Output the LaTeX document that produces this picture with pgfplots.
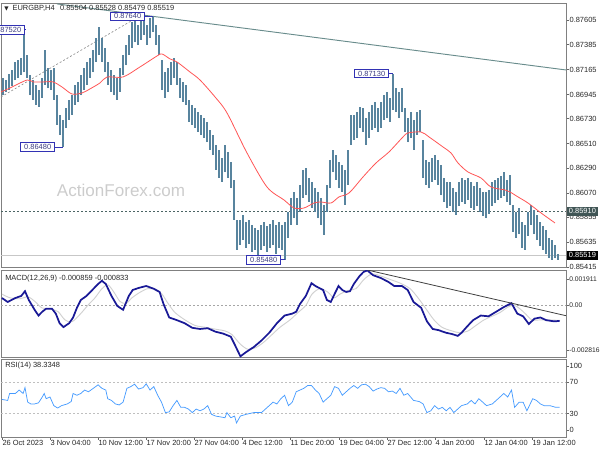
\documentclass[border=0pt]{standalone}
\usepackage{pgfplots}
\pgfplotsset{compat=1.18}
\usepackage{pgfplotstable}
\usepackage{fontspec}
\setmainfont{Liberation Sans}
\newfontfamily\dejavu{DejaVu Sans}
\definecolor{barc}{RGB}{88,132,158}
\definecolor{maR}{RGB}{255,85,85}
\definecolor{trendc}{RGB}{105,140,140}
\definecolor{lblc}{RGB}{50,50,180}
\definecolor{lbltx}{RGB}{60,60,130}
\definecolor{macdc}{RGB}{25,25,150}
\definecolor{rsic}{RGB}{70,155,255}
\definecolor{hlc}{RGB}{75,100,100}
\newcommand\tl{\fontsize{5.6}{6.5}\selectfont}

\pgfplotstableread{
x lo hi
3 0.86940 0.87091
6 0.86967 0.87073
9 0.86985 0.87127
12 0.87020 0.87162
15 0.87073 0.87233
18 0.87091 0.87251
21 0.87118 0.87269
24 0.87144 0.87520
27 0.87091 0.87295
30 0.86940 0.87118
33 0.86896 0.87073
36 0.86852 0.87029
39 0.86834 0.86985
42 0.86914 0.87091
45 0.87029 0.87340
48 0.87002 0.87180
51 0.86985 0.87162
54 0.86896 0.87180
57 0.86674 0.86940
60 0.86586 0.86763
63 0.86480 0.86719
66 0.86648 0.86825
69 0.86719 0.86896
72 0.86763 0.86940
75 0.86852 0.87029
78 0.86878 0.87056
81 0.86940 0.87118
84 0.86985 0.87180
87 0.87029 0.87233
90 0.87091 0.87269
93 0.87144 0.87340
96 0.87233 0.87446
99 0.87295 0.87544
102 0.87233 0.87446
105 0.87144 0.87357
108 0.87029 0.87233
111 0.86967 0.87162
114 0.86940 0.87118
117 0.86896 0.87091
120 0.86967 0.87180
123 0.87118 0.87295
126 0.87206 0.87384
129 0.87295 0.87473
132 0.87357 0.87588
135 0.87410 0.87606
138 0.87384 0.87561
141 0.87428 0.87606
144 0.87473 0.87632
147 0.87384 0.87561
150 0.87446 0.87623
153 0.87499 0.87640
156 0.87384 0.87561
159 0.87295 0.87473
162 0.86985 0.87251
165 0.86914 0.87144
168 0.86967 0.87180
171 0.87029 0.87233
174 0.87091 0.87269
177 0.87029 0.87233
180 0.86914 0.87091
183 0.86878 0.87056
186 0.86852 0.87029
189 0.86701 0.86896
192 0.86674 0.86852
195 0.86648 0.86825
198 0.86612 0.86790
201 0.86586 0.86763
204 0.86559 0.86736
207 0.86523 0.86701
210 0.86453 0.86630
213 0.86408 0.86586
216 0.86275 0.86497
219 0.86204 0.86453
222 0.86169 0.86382
225 0.86257 0.86497
228 0.86204 0.86435
231 0.86115 0.86346
234 0.85832 0.86187
237 0.85566 0.85832
240 0.85610 0.85832
243 0.85654 0.85876
246 0.85583 0.85814
249 0.85619 0.85832
252 0.85548 0.85787
255 0.85566 0.85761
258 0.85521 0.85743
261 0.85566 0.85787
264 0.85601 0.85814
267 0.85548 0.85778
270 0.85583 0.85796
273 0.85610 0.85832
276 0.85530 0.85787
279 0.85583 0.85814
282 0.85566 0.85787
285 0.85480 0.85814
288 0.85672 0.85903
291 0.85787 0.86027
294 0.85849 0.86080
297 0.85787 0.86027
300 0.85903 0.86142
303 0.86027 0.86275
306 0.86053 0.86293
309 0.85991 0.86204
312 0.85938 0.86169
315 0.85903 0.86115
318 0.85849 0.86080
321 0.85787 0.86027
324 0.85699 0.85965
327 0.85903 0.86142
330 0.86115 0.86364
333 0.86257 0.86453
336 0.86187 0.86408
339 0.86115 0.86346
342 0.86080 0.86319
345 0.85965 0.86275
348 0.86142 0.86453
351 0.86497 0.86763
354 0.86541 0.86763
357 0.86559 0.86790
360 0.86648 0.86834
363 0.86612 0.86825
366 0.86497 0.86736
369 0.86559 0.86790
372 0.86630 0.86852
375 0.86648 0.86878
378 0.86612 0.86825
381 0.86648 0.86878
384 0.86719 0.86940
387 0.86736 0.86967
390 0.86701 0.86914
393 0.86807 0.87130
396 0.86790 0.87002
399 0.86736 0.86967
402 0.86790 0.87002
405 0.86612 0.86825
408 0.86523 0.86736
411 0.86559 0.86790
414 0.86453 0.86719
417 0.86586 0.86790
420 0.86612 0.86807
423 0.86204 0.86541
426 0.86142 0.86364
429 0.86115 0.86346
432 0.86169 0.86382
435 0.86187 0.86408
438 0.86142 0.86364
441 0.86053 0.86319
444 0.85991 0.86204
447 0.85938 0.86169
450 0.85956 0.86169
453 0.85903 0.86115
456 0.85876 0.86080
459 0.85956 0.86169
462 0.85991 0.86204
465 0.85974 0.86187
468 0.86009 0.86204
471 0.85938 0.86169
474 0.85920 0.86133
477 0.85956 0.86169
480 0.85903 0.86115
483 0.85867 0.86080
486 0.85849 0.86080
489 0.85885 0.86098
492 0.85956 0.86169
495 0.85982 0.86187
498 0.86009 0.86204
501 0.86027 0.86222
504 0.86045 0.86257
507 0.85991 0.86187
510 0.85965 0.86231
513 0.85725 0.85965
516 0.85672 0.85903
519 0.85707 0.85938
522 0.85583 0.85814
525 0.85566 0.85787
528 0.85690 0.85903
531 0.85787 0.85965
534 0.85707 0.85920
537 0.85654 0.85876
540 0.85601 0.85814
543 0.85566 0.85778
546 0.85530 0.85743
549 0.85494 0.85672
552 0.85477 0.85654
555 0.85494 0.85610
558 0.85479 0.85528
}\bars

\pgfplotsset{mt/.style={scale only axis, width=423.75pt, xmin=1, xmax=566,
  axis line style={draw=black!50, line width=0.6pt},
  tick style={draw=black!60, line width=0.5pt}, major tick length=2pt,
  ytick pos=right, yticklabel pos=right, tick align=outside,
  yticklabel style={font=\tl, inner sep=0.5pt, text=black!85},
  clip mode=individual, scaled y ticks=false}}

\begin{document}
\begin{tikzpicture}
\path[use as bounding box] (0,0) rectangle (450pt,-337.5pt);
% ---------------- main price panel
\begin{axis}[mt, at={(0.75pt,-2.25pt)}, anchor=north west, height=198.2pt,
  ymin=0.85412, ymax=0.87756, xtick=\empty,
  ytick={0.87605,0.87385,0.87165,0.86945,0.86730,0.86510,0.86290,0.86070,0.85855,0.85635,0.85415},
  yticklabels={0.87605,0.87385,0.87165,0.86945,0.86730,0.86510,0.86290,0.86070,0.85855,0.85635,0.85415}]
\node[font=\fontsize{12.8}{14}\selectfont, text=black!20] at (axis cs:121,0.86098) {ActionForex.com};
\addplot[draw=hlc, line width=0.5pt, dash pattern=on 1.5pt off 1.5pt, forget plot] coordinates {(1,0.85910)(566,0.85910)};
\addplot[draw=black!22, line width=0.7pt, forget plot] coordinates {(1,0.85519)(566,0.85519)};
\addplot[draw=black!45, line width=0.5pt, dash pattern=on 1.5pt off 1.5pt, forget plot] coordinates {(1,0.86923)(133,0.87606)};
\addplot[only marks, mark=*, mark size=0pt, mark options={draw=none, fill=none}, forget plot,
  error bars/.cd, y dir=plus, y explicit, error mark=none,
  error bar style={draw=barc, line width=1.1pt}]
  table[x=x, y=lo, y error plus expr=\thisrow{hi}-\thisrow{lo}] {\bars};
\addplot[draw=maR, line width=0.6pt, smooth, tension=0.5, forget plot] coordinates {
(1,0.86967)(10,0.87002)(27,0.87073)(33,0.87056)(43,0.87056)(53,0.87056)(62,0.87011)(72,0.86949)(82,0.86958)(90,0.86994)(100,0.87047)(107,0.87100)(123,0.87100)(140,0.87189)(157,0.87286)(162,0.87304)(170,0.87260)(177,0.87233)(190,0.87144)(200,0.87073)(215,0.86923)(227,0.86781)(247,0.86426)(267,0.86124)(284,0.86009)(294,0.85938)(304,0.85938)(314,0.85982)(321,0.85991)(331,0.85982)(339,0.86036)(349,0.86071)(363,0.86213)(376,0.86337)(389,0.86435)(403,0.86568)(408,0.86603)(421,0.86612)(429,0.86568)(443,0.86479)(451,0.86426)(458,0.86337)(468,0.86257)(481,0.86204)(491,0.86124)(505,0.86098)(510,0.86080)(518,0.86036)(528,0.85982)(541,0.85894)(555,0.85805)};
\addplot[draw=trendc, line width=0.7pt, forget plot] coordinates {(57,0.87748)(566,0.87162)};
% annotation boxes
\tikzset{lbl/.style={draw=lblc, fill=white, text=lbltx, font=\tl, inner xsep=2.6pt, inner ysep=1.2pt, line width=0.5pt}}
\draw[lblc, line width=0.5pt] (axis cs:24,0.87520) -- (axis cs:26,0.87520);
\node[lbl, anchor=east] at (axis cs:25,0.87520) {0.87520};
\draw[lblc, line width=0.5pt] (axis cs:54,0.86480) -- (axis cs:63,0.86480);
\node[lbl, anchor=east] at (axis cs:55,0.86480) {0.86480};
\draw[lblc, line width=0.5pt] (axis cs:144,0.87640) -- (axis cs:153,0.87640);
\node[lbl, anchor=east] at (axis cs:145,0.87640) {0.87640};
\draw[lblc, line width=0.5pt] (axis cs:388,0.87130) -- (axis cs:393,0.87130);
\node[lbl, anchor=east] at (axis cs:389,0.87130) {0.87130};
\draw[lblc, line width=0.5pt] (axis cs:280,0.85480) -- (axis cs:285,0.85480);
\node[lbl, anchor=east] at (axis cs:281,0.85480) {0.85480};
\node[anchor=west, inner sep=0pt, text=black!85] at (axis cs:4,0.87712) {{\dejavu\fontsize{4.2}{5}\selectfont ▼}\hspace{3pt}{\tl EURGBP,H4\hspace{4pt}0.85504 0.85528 0.85479 0.85519}};
\coordinate (b1) at (axis cs:566,0.85910);
\coordinate (b2) at (axis cs:566,0.85519);
\end{axis}
\node[anchor=west, fill=hlc!85!black, text=white, font=\tl, inner xsep=1.4pt, inner ysep=1.3pt] at ([xshift=0.6pt]b1) {0.85910};
\node[anchor=west, fill=black, text=white, font=\tl, inner xsep=1.4pt, inner ysep=1.3pt] at ([xshift=0.6pt]b2) {0.85519};
% ---------------- MACD panel
\begin{axis}[mt, at={(0.75pt,-202.5pt)}, anchor=north west, height=65.25pt,
  ymin=-0.002816, ymax=0.001911, xtick=\empty,
  yticklabel style={font=\fontsize{5.05}{6}\selectfont, inner sep=0.3pt},
  ytick={-0.002436,0,0.001422}, yticklabels={-0.002816,0.00,0.001911}]
\addplot[draw=black!35, line width=0.45pt, dash pattern=on 1.5pt off 1.5pt, forget plot] coordinates {(1,0)(566,0)};
\addplot[draw=black!18, line width=0.7pt, smooth, forget plot] coordinates {
(2,0.00060)(10,0.00040)(20,0.00035)(28,0.00045)(35,0.00020)(42,-0.00015)(50,-0.00020)(58,-0.00035)(65,-0.00080)(72,-0.00090)(80,-0.00050)(88,0.00000)(95,0.00040)(102,0.00090)(108,0.00110)(114,0.00070)(120,0.00020)(126,0.00010)(132,0.00040)(140,0.00070)(148,0.00090)(156,0.00085)(162,0.00060)(168,0.00010)(175,-0.00040)(185,-0.00080)(195,-0.00110)(205,-0.00120)(215,-0.00130)(225,-0.00140)(232,-0.00160)(240,-0.00210)(248,-0.00240)(256,-0.00230)(264,-0.00200)(272,-0.00160)(280,-0.00120)(290,-0.00080)(298,-0.00040)(306,0.00000)(312,0.00060)(320,0.00090)(328,0.00070)(334,0.00040)(340,0.00060)(348,0.00080)(356,0.00090)(364,0.00140)(372,0.00170)(380,0.00160)(390,0.00140)(400,0.00120)(410,0.00090)(418,0.00040)(426,-0.00020)(434,-0.00080)(442,-0.00120)(452,-0.00140)(460,-0.00150)(468,-0.00140)(476,-0.00110)(484,-0.00080)(492,-0.00060)(500,-0.00040)(508,-0.00010)(514,0.00000)(520,-0.00020)(526,-0.00050)(532,-0.00080)(540,-0.00080)(548,-0.00080)(560,-0.00083)};
\addplot[draw=macdc, line width=1.3pt, forget plot] coordinates {
(1.9,0.000391)(7.7,0.000174)(15.4,0.000391)(21.2,0.000500)(25.0,0.000760)(28.8,0.000282)(34.6,-0.000250)(38.5,-0.000563)(42.3,-0.000355)(46.2,-0.000188)(51.9,-0.000188)(55.8,-0.000459)(59.6,-0.000980)(63.5,-0.001189)(69.2,-0.000980)(73.1,-0.000668)(76.9,-0.000146)(80.8,0.000282)(86.5,0.000500)(92.3,0.000825)(98.1,0.001151)(101.9,0.001325)(105.8,0.001151)(111.5,0.000500)(117.3,-0.000042)(123.1,-0.000250)(128.8,0.000500)(132.7,0.000825)(138.5,0.000934)(146.2,0.001043)(153.8,0.000891)(159.6,0.000717)(163.5,0.000065)(169.2,-0.000668)(176.9,-0.000814)(184.6,-0.000980)(192.3,-0.001231)(200.0,-0.001293)(207.7,-0.001252)(215.4,-0.001439)(223.1,-0.001544)(230.8,-0.001711)(234.6,-0.002128)(240.4,-0.002780)(246.2,-0.002545)(253.8,-0.002274)(261.5,-0.001919)(269.2,-0.001502)(276.9,-0.000980)(284.6,-0.000563)(292.3,-0.000459)(296.2,-0.000355)(300.0,0.000065)(305.8,0.000500)(311.5,0.001195)(315.4,0.001043)(319.2,0.000934)(323.1,0.000825)(326.9,0.000282)(330.8,0.000174)(334.6,0.000608)(338.5,0.001043)(342.3,0.000825)(346.2,0.000717)(350.0,0.000760)(353.8,0.001151)(359.6,0.001586)(363.5,0.001803)(367.3,0.001890)(373.1,0.001629)(380.8,0.001477)(388.5,0.001260)(394.2,0.001043)(401.9,0.001043)(407.7,0.000825)(413.5,0.000174)(421.2,-0.000146)(426.9,-0.000876)(432.7,-0.001293)(438.5,-0.001356)(446.2,-0.001502)(451.9,-0.001565)(457.7,-0.001669)(461.5,-0.001502)(467.3,-0.001147)(473.1,-0.000814)(480.8,-0.000563)(488.5,-0.000605)(496.2,-0.000355)(503.8,-0.000104)(511.5,0.000109)(517.3,-0.000459)(523.1,-0.000605)(528.8,-0.001022)(534.6,-0.000730)(540.4,-0.000668)(546.2,-0.000814)(553.8,-0.000876)(559.6,-0.000859)};
\addplot[draw=black!75, line width=0.6pt, forget plot] coordinates {(367.3,0.001911)(566,-0.000572)};
\node[anchor=west, font=\tl, text=black!85, inner sep=0pt] at (axis cs:5,0.00142) {MACD(12,26,9) -0.000859 -0.000833};
\end{axis}
% ---------------- RSI panel
\begin{axis}[mt, at={(0.75pt,-269.25pt)}, anchor=north west, height=58.5pt,
  ymin=0, ymax=100,
  ytick={9,30,70,91}, yticklabels={0,30,70,100},
  xtick={2,50,98,146,194,242,290,339,387,435,484,532},
  xticklabels={26 Oct 2023,3 Nov 04:00,10 Nov 12:00,17 Nov 20:00,27 Nov 04:00,4 Dec 12:00,11 Dec 20:00,19 Dec 04:00,27 Dec 12:00,4 Jan 20:00,12 Jan 04:00,19 Jan 12:00},
  xtick pos=bottom, xticklabel style={font=\tl, anchor=north west, inner sep=0.6pt, text=black!85, xshift=-0.4pt}]
\addplot[draw=black!25, line width=0.45pt, dash pattern=on 1.5pt off 1.5pt, forget plot] coordinates {(1,70)(566,70)};
\addplot[draw=black!25, line width=0.45pt, dash pattern=on 1.5pt off 1.5pt, forget plot] coordinates {(1,30)(566,30)};
\addplot[draw=rsic, line width=0.55pt, forget plot] coordinates {
(1.9,48.2)(7.7,46.9)(9.6,55.8)(15.4,55.8)(19.2,60.2)(23.1,55.8)(25.0,63.3)(27.7,44.7)(30.8,42.4)(34.6,42.4)(38.5,43.8)(42.3,51.3)(44.2,55.8)(46.2,49.1)(50.0,51.3)(53.8,40.2)(57.7,37.1)(61.5,40.2)(67.3,42.4)(71.2,45.5)(73.1,55.8)(76.9,53.5)(80.8,55.8)(84.6,60.2)(88.5,58.0)(92.3,61.5)(98.1,66.9)(101.9,62.4)(105.8,60.2)(107.7,49.1)(111.5,46.9)(115.4,42.4)(119.2,41.1)(123.1,44.7)(126.9,62.4)(130.8,64.6)(134.6,67.7)(138.5,61.5)(143.1,63.3)(146.2,68.2)(150.0,60.2)(153.8,64.6)(157.7,53.5)(161.5,44.7)(165.4,31.3)(169.2,32.2)(173.1,40.2)(176.9,46.9)(180.8,38.0)(184.6,38.0)(188.5,35.8)(192.3,31.3)(196.2,35.8)(200.0,33.6)(203.8,35.8)(207.7,40.2)(211.5,29.1)(215.4,26.9)(221.2,25.6)(225.0,24.7)(226.9,31.3)(230.8,24.7)(234.6,26.9)(236.5,18.0)(240.4,26.9)(246.2,29.1)(253.8,31.3)(261.5,31.3)(265.4,35.8)(269.2,40.2)(273.1,44.7)(276.9,42.4)(280.8,49.1)(284.6,53.5)(288.5,40.2)(292.3,44.7)(296.2,58.0)(300.0,60.2)(303.8,62.4)(307.7,66.0)(311.5,66.0)(315.4,60.2)(319.2,55.8)(323.1,44.7)(326.9,49.1)(330.8,53.5)(334.6,64.6)(338.5,62.4)(342.3,53.5)(346.2,58.0)(350.0,62.4)(353.8,66.0)(357.7,62.4)(361.5,66.9)(365.4,67.7)(369.2,64.6)(373.1,58.9)(376.9,61.5)(380.8,63.3)(384.6,62.4)(388.5,58.0)(392.3,58.9)(396.2,55.8)(400.0,62.4)(403.8,53.5)(407.7,55.8)(413.5,46.9)(419.2,45.5)(423.1,42.4)(426.9,31.3)(430.8,33.6)(434.6,40.2)(438.5,35.8)(442.3,38.0)(446.2,33.6)(450.0,38.0)(453.8,31.3)(457.7,35.8)(461.5,40.2)(467.3,42.4)(471.2,46.9)(475.0,42.4)(478.8,49.1)(482.7,44.7)(486.5,40.2)(492.3,42.4)(496.2,46.9)(500.0,51.3)(503.8,55.8)(507.7,51.3)(511.5,60.2)(514.6,38.0)(519.2,44.7)(523.1,44.7)(526.9,33.6)(532.7,49.1)(536.5,46.9)(540.4,42.4)(544.2,40.2)(550.0,40.2)(555.8,38.0)(559.6,38.3)};
\node[anchor=west, font=\tl, text=black!85, inner sep=0pt] at (axis cs:5,92) {RSI(14) 38.3348};
\end{axis}
\end{tikzpicture}
\end{document}
